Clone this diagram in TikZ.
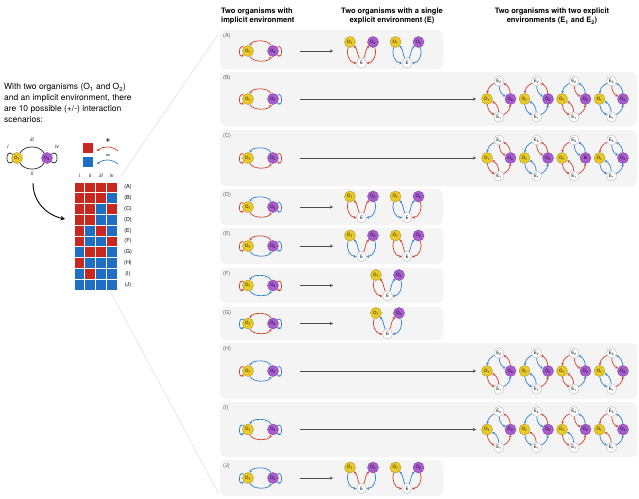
\documentclass[tikz,border=0pt]{standalone}
\usepackage{fontspec}
\setmainfont{TeX Gyre Heros}
\usetikzlibrary{arrows.meta}
\definecolor{cred}{RGB}{210,62,42}
\definecolor{cblue}{RGB}{48,128,205}
\definecolor{mR}{RGB}{200,40,30}
\definecolor{mB}{RGB}{30,110,195}
\definecolor{oyel}{RGB}{234,202,40}
\definecolor{opur}{RGB}{168,92,208}
\definecolor{pan}{RGB}{244,244,244}
\tikzset{
 onode/.style={circle, inner sep=0pt, minimum size=11pt, line width=0.4pt, font=\fontsize{4.5}{5}\selectfont},
 oA/.style={onode, fill=oyel, draw=oyel!75!black},
 oB/.style={onode, fill=opur, draw=opur!75!black},
 enode/.style={circle, inner sep=0pt, minimum size=10pt, fill=white, draw=gray!55, line width=0.4pt, font=\fontsize{4.5}{5}\selectfont},
 arr/.style={line width=0.7pt, -{Stealth[length=2.4pt,width=2.6pt]}},
 panel/.style={fill=pan, draw=none, rounded corners=6pt},
 plabel/.style={font=\fontsize{5.5}{6}\selectfont, text=gray!75!black, anchor=west, inner sep=0pt},
 head/.style={font=\fontsize{7.5}{9}\selectfont\bfseries, inner sep=0pt},
 bigarr/.style={line width=0.6pt, draw=gray!60!black, -{Stealth[length=3pt,width=3pt]}},
 rowlab/.style={font=\fontsize{5.5}{6}\selectfont, inner sep=0pt},
 collab/.style={font=\fontsize{5}{6}\selectfont\itshape, inner sep=0pt},
 blackline/.style={line width=0.7pt, draw=black!85},
}
\newcommand\setrow[4]{\def\Si{#1}\def\Sii{#2}\def\Siii{#3}\def\Siv{#4}}
\newcommand\setc[2]{\ifnum\numexpr#2\relax>0 \def#1{cred}\else\def#1{cblue}\fi}
\def\otwo{O\textsubscript{2}}
\newcommand\mini[2]{%
 \setc\kI{\Si}\setc\kII{\Sii}\setc\kIII{\Siii}\setc\kIV{\Siv}%
 \node[oA] (#1a) at (248,-#2) {O\textsubscript{1}};
 \node[oB] (#1b) at (273,-#2) {O\textsubscript{2}};
 \draw[arr,color=\kI] (#1a.140) .. controls +(140:7) and +(220:7) .. (#1a.220);
 \draw[arr,color=\kIV] (#1b.40) .. controls +(40:7) and +(-40:7) .. (#1b.-40);
 \draw[arr,color=\kIII] (#1b.110) to[out=110,in=70,looseness=0.8] (#1a.70);
 \draw[arr,color=\kII] (#1a.-70) to[out=-70,in=-110,looseness=0.8] (#1b.-110);
}
\newcommand\tri[7]{%
 \setc\kP{#4}\setc\kQ{#5}\setc\kR{#6}\setc\kS{#7}%
 \node[oA] (#1a) at (#2-11.5,-#3+10.5) {O\textsubscript{1}};
 \node[oB] (#1b) at (#2+11.5,-#3+10.5) {O\textsubscript{2}};
 \node[enode] (#1e) at (#2,-#3-10.5) {E};
 \draw[arr,color=\kP] (#1a.250) to[out=250,in=180] (#1e.180);
 \draw[arr,color=\kQ] (#1e.115) to[out=115,in=-45] (#1a.-45);
 \draw[arr,color=\kR] (#1e.65) to[out=65,in=-135] (#1b.-135);
 \draw[arr,color=\kS] (#1b.-70) to[out=-70,in=0] (#1e.0);
}
\newcommand\dia[5]{%
 \setc\kP{#4}\setc\kQ{#4*\Si}\setc\kR{#4*\Sii}\setc\kS{#5}\setc\kT{#5*\Siv}\setc\kU{#5*\Siii}%
 \node[enode] (#1t) at (#2,-#3+18) {E\textsubscript{2}};
 \node[enode] (#1u) at (#2,-#3-18) {E\textsubscript{1}};
 \node[oA] (#1a) at (#2-12,-#3) {O\textsubscript{1}};
 \node[oB] (#1b) at (#2+11.5,-#3) {\otwo};
 \draw[arr,color=\kP] (#1a) to[bend right=30] (#1u);
 \draw[arr,color=\kQ] (#1u) to[bend right=30] (#1a);
 \draw[arr,color=\kR] (#1u) to[bend right=30] (#1b);
 \draw[arr,color=\kS] (#1b) to[bend right=30] (#1t);
 \draw[arr,color=\kT] (#1t) to[bend right=30] (#1b);
 \draw[arr,color=\kU] (#1t) to[bend right=30] (#1a);
}
\newcommand\panel[5]{% name, top, bottom, right, label
 \fill[panel] (220,-#2) rectangle (#4,-#3);
 \node[plabel] (#1lab) at (223,-#2-6) {(#5)};
}
\newcommand\bigarrow[3]{% name, y, xend
 \coordinate (#1s) at (300,-#2);
 \coordinate (#1e) at (#3,-#2);
 \draw[bigarr] (#1s) -- (#1e);
}
\begin{document}
\begin{tikzpicture}[x=1pt,y=1pt]
\useasboundingbox (0,0) rectangle (639,-498);
\fill[white] (0,0) rectangle (639,-498);

% faint guide lines
\coordinate (g1) at (121,-176); \coordinate (g2) at (219,-33);
\coordinate (g3) at (110,-291); \coordinate (g4) at (219,-494);
\draw[gray!30, line width=0.4pt] (g1) -- (g2);
\draw[gray!30, line width=0.4pt] (g3) -- (g4);

% headings
\node[head, anchor=north west, align=left] (h1) at (221,-8) {Two organisms with\\implicit environment};
\node[head, anchor=north, align=center] (h2) at (392,-8) {Two organisms with a single\\explicit environment (E)};
\node[head, anchor=north, align=center] (h3) at (552,-8) {Two organisms with two explicit\\environments (E\textsubscript{1} and E\textsubscript{2})};

% left text
\node[anchor=north west, align=left, font=\fontsize{8.5}{11}\selectfont, inner sep=0pt] (txt) at (4,-83)
 {With two organisms (O\textsubscript{1} and O\textsubscript{2})\\and an implicit environment, there\\are 10 possible (+/-) interaction\\scenarios:};

% left graph
\node[oA] (L1) at (17,-158) {O\textsubscript{1}};
\node[oB] (L2) at (47,-158) {O\textsubscript{2}};
\draw[blackline] (L1.140) .. controls +(140:10) and +(220:10) .. (L1.220);
\draw[blackline] (L2.40) .. controls +(40:10) and +(-40:10) .. (L2.-40);
\draw[blackline] (L1.60) to[out=60,in=120] (L2.120);
\draw[blackline] (L1.-60) to[out=-60,in=-120] (L2.-120);
\node[collab] (li) at (8,-147) {i};
\node[collab] (liii) at (32,-140) {iii};
\node[collab] (liv) at (57,-147) {iv};
\node[collab] (lii) at (32,-174) {ii};
\coordinate (ca) at (33,-183);
\coordinate (cb) at (65,-219);
\draw[line width=0.9pt, -{Stealth[length=4.5pt,width=4.5pt]}] (ca) to[out=-90,in=168] (cb);

% legend
\fill[mR] (83,-143) rectangle (93,-153);
\fill[mB] (83,-157) rectangle (93,-167);
\node[font=\fontsize{8}{8}\selectfont\bfseries, inner sep=0pt] (plus) at (108,-141) {+};
\node[font=\fontsize{8}{8}\selectfont\bfseries, inner sep=0pt] (minus) at (108,-156) {\textminus};
\coordinate (lr1) at (118,-151); \coordinate (lr2) at (97,-151);
\coordinate (lb1) at (118,-164); \coordinate (lb2) at (97,-164);
\draw[line width=0.7pt, cred, -{Stealth[length=2.6pt,width=2.8pt]}] (lr1) to[bend right=40] (lr2);
\draw[line width=0.7pt, cblue, -{Stealth[length=2.6pt,width=2.8pt]}] (lb1) to[bend right=40] (lb2);

% matrix
\foreach \cl/\x in {i/79.4, ii/90.2, iii/101, iv/111.8}
  \node[collab] (c\cl) at (\x,-176) {\cl};
\foreach \lab/\a/\b/\c/\d [count=\k from 0] in {A/R/R/R/R, B/R/R/R/B, C/R/R/B/R, D/R/R/B/B, E/R/B/R/B, F/R/B/B/R, G/B/R/R/B, H/R/B/B/B, I/B/R/B/B, J/B/B/B/B}{
  \foreach \col [count=\j from 0] in {\a,\b,\c,\d}
    \fill[m\col] ({74.5+\j*10.8},{-182.5-\k*10.8}) rectangle +(9.8,-9.8);
  \node[rowlab] (r\lab) at (128,{-187.4-\k*10.8}) {(\lab)};
}

% ---------- panels ----------
\panel{pA}{30}{69}{443}{A}
\panel{pB}{72}{126}{637}{B}
\panel{pC}{130}{186}{637}{C}
\panel{pD}{189}{225}{443}{D}
\panel{pE}{228}{264}{443}{E}
\panel{pF}{268}{303}{443}{F}
\panel{pG}{307}{340}{443}{G}
\panel{pH}{343}{399}{637}{H}
\panel{pI}{402}{457}{637}{I}
\panel{pJ}{460}{496}{443}{J}

% (A)
\setrow{1}{1}{1}{1}
\mini{mA}{51}
\bigarrow{aA}{51}{333}
\tri{tA1}{361.5}{52.5}{1}{1}{1}{1}
\tri{tA2}{407}{52.5}{-1}{-1}{-1}{-1}

% (B)
\setrow{1}{1}{1}{-1}
\mini{mB}{99}
\bigarrow{aB}{99}{476}
\dia{dB1}{499}{99}{1}{1}
\dia{dB2}{536.5}{99}{-1}{1}
\dia{dB3}{574}{99}{1}{-1}
\dia{dB4}{611.5}{99}{-1}{-1}

% (C)
\setrow{1}{1}{-1}{1}
\mini{mC}{158}
\bigarrow{aC}{158}{476}
\dia{dC1}{499}{158}{1}{1}
\dia{dC2}{536.5}{158}{-1}{1}
\def\otwo{B}
\dia{dC3}{574}{158}{1}{-1}
\def\otwo{O\textsubscript{2}}
\dia{dC4}{611.5}{158}{-1}{-1}

% (D)
\setrow{1}{1}{-1}{-1}
\mini{mD}{207}
\bigarrow{aD}{207}{333}
\tri{tD1}{361.5}{207}{1}{1}{1}{-1}
\tri{tD2}{407}{207}{-1}{-1}{-1}{1}

% (E)
\setrow{1}{-1}{1}{-1}
\mini{mE}{246}
\bigarrow{aE}{246}{333}
\tri{tE1}{361.5}{246}{-1}{-1}{1}{-1}
\tri{tE2}{407}{246}{1}{1}{-1}{1}

% (F)
\setrow{1}{-1}{-1}{1}
\mini{mF}{285.5}
\bigarrow{aF}{285.5}{333}
\tri{tF1}{387.5}{285.5}{1}{1}{-1}{-1}

% (G)
\setrow{-1}{1}{1}{-1}
\mini{mG}{323.5}
\bigarrow{aG}{323.5}{333}
\tri{tG1}{387.5}{323.5}{1}{-1}{1}{-1}

% (H)
\setrow{1}{-1}{-1}{-1}
\mini{mH}{371}
\bigarrow{aH}{371}{476}
\dia{dH1}{499}{371}{1}{1}
\dia{dH2}{536.5}{371}{-1}{1}
\dia{dH3}{574}{371}{1}{-1}
\dia{dH4}{611.5}{371}{-1}{-1}

% (I)
\setrow{-1}{1}{-1}{-1}
\mini{mI}{429.5}
\bigarrow{aI}{429.5}{476}
\dia{dI1}{499}{429.5}{1}{1}
\dia{dI2}{536.5}{429.5}{-1}{1}
\dia{dI3}{574}{429.5}{1}{-1}
\dia{dI4}{611.5}{429.5}{-1}{-1}

% (J)
\setrow{-1}{-1}{-1}{-1}
\mini{mJ}{478}
\bigarrow{aJ}{478}{333}
\tri{tJ1}{361.5}{478}{-1}{1}{1}{-1}
\tri{tJ2}{407}{478}{1}{-1}{-1}{1}
\end{tikzpicture}
\end{document}
